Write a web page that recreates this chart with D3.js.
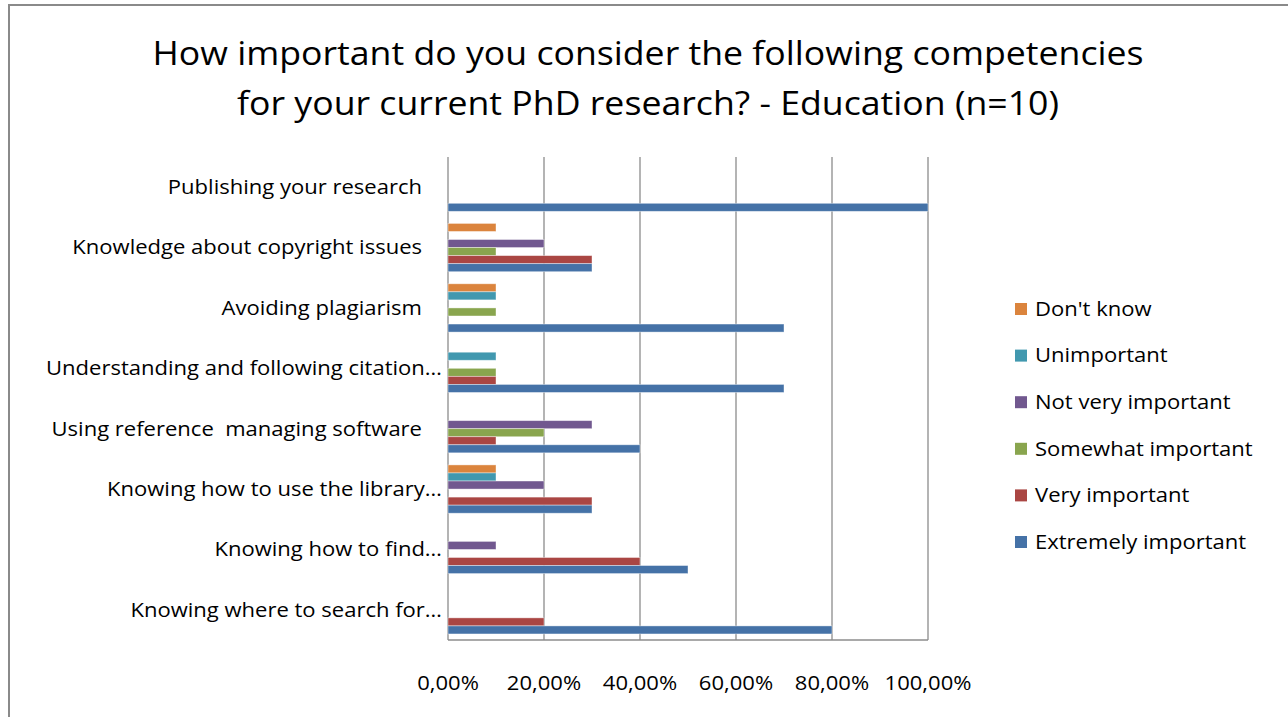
<!DOCTYPE html>
<html>
<head>
<meta charset="utf-8">
<script src="https://cdn.jsdelivr.net/npm/d3@7"></script>
<style>
  html, body { margin: 0; padding: 0; background: #fff; }
  svg text { font-family: "Open Sans", Lato, sans-serif; fill: #000; }
</style>
</head>
<body>
<svg id="chart" width="1288" height="717"></svg>
<script>
const categories = [
  "Publishing your research",
  "Knowledge about copyright issues",
  "Avoiding plagiarism",
  "Understanding and following citation…",
  "Using reference  managing software",
  "Knowing how to use the library…",
  "Knowing how to find…",
  "Knowing where to search for…"
];
const seriesNames = ["Don't know", "Unimportant", "Not very important", "Somewhat important", "Very important", "Extremely important"];
const seriesColors = ["#DB843D", "#4198AF", "#71588F", "#89A54E", "#AA4643", "#4572A7"];
const dontKnow          = [0, 0.1, 0.1, 0,   0,   0.1, 0,   0];
const unimportant       = [0, 0,   0.1, 0.1, 0,   0.1, 0,   0];
const notVeryImportant  = [0, 0.2, 0,   0,   0.3, 0.2, 0.1, 0];
const somewhatImportant = [0, 0.1, 0.1, 0.1, 0.2, 0,   0,   0];
const veryImportant     = [0, 0.3, 0,   0.1, 0.1, 0.3, 0.4, 0.2];
const extremelyImportant= [1, 0.3, 0.7, 0.7, 0.4, 0.3, 0.5, 0.8];
const tickValues = [0, 0.2, 0.4, 0.6, 0.8, 1.0];
const tickLabels = ["0,00%", "20,00%", "40,00%", "60,00%", "80,00%", "100,00%"];
const titleLines = ["How important do you consider the following competencies", "for your current PhD research? - Education (n=10)"];

const seriesValues = [dontKnow, unimportant, notVeryImportant, somewhatImportant, veryImportant, extremelyImportant];

const svg = d3.select("#chart");
const SX = 1.13;   // horizontal stretch of small text
const TSX = 1.115; // horizontal stretch of title

// outer frame
svg.append("path").attr("d", "M9,717 V5 H1288").attr("fill", "none").attr("stroke", "#8a8a8a").attr("stroke-width", 2);

const plot = { left: 448, right: 928, top: 157, bottom: 640 };
const x = d3.scaleLinear().domain([0, 1]).range([plot.left, plot.right]);
const y = d3.scaleBand().domain(categories).range([plot.top, plot.bottom]).paddingInner(0.2).paddingOuter(0.1);
const ySub = d3.scaleBand().domain(seriesNames).range([0, y.bandwidth()]);

// gridlines
svg.append("g").selectAll("line").data(tickValues).join("line")
  .attr("x1", d => x(d)).attr("x2", d => x(d))
  .attr("y1", plot.top).attr("y2", plot.bottom)
  .attr("stroke", "#8c8c8c").attr("stroke-width", 1.3);

// bottom axis line
svg.append("line").attr("x1", plot.left).attr("x2", plot.right).attr("y1", plot.bottom).attr("y2", plot.bottom)
  .attr("stroke", "#8c8c8c").attr("stroke-width", 1.3);

// bars
const groups = svg.append("g").selectAll("g").data(categories).join("g")
  .attr("transform", d => `translate(0,${y(d)})`);
groups.each(function(cat, ci) {
  d3.select(this).selectAll("rect").data(seriesNames.map((s, si) => ({ s, si, v: seriesValues[si][ci] })).filter(d => d.v > 0))
    .join("rect")
    .attr("x", x(0))
    .attr("y", d => ySub(d.s))
    .attr("width", d => x(d.v) - x(0))
    .attr("height", ySub.bandwidth())
    .attr("fill", d => seriesColors[d.si])
    .attr("stroke", "rgba(255,255,255,0.5)")
    .attr("stroke-width", 0.8);
});

// category labels
svg.append("g").selectAll("text").data(categories).join("text")
  .attr("transform", d => `translate(${d.endsWith("…") ? 442 : 422},${y(d) + y.bandwidth() / 2}) scale(${SX},1)`)
  .attr("dy", "0.35em")
  .attr("text-anchor", "end")
  .style("white-space", "pre")
  .attr("font-size", 19.5)
  .text(d => d);

// tick labels
svg.append("g").selectAll("text").data(tickValues).join("text")
  .attr("transform", d => `translate(${x(d)},690) scale(${SX},1)`)
  .attr("text-anchor", "middle")
  .attr("font-size", 19.5)
  .text((d, i) => tickLabels[i]);

// title
svg.append("g").selectAll("text").data(titleLines).join("text")
  .attr("transform", (d, i) => `translate(648,${65 + i * 50}) scale(${TSX},1)`)
  .attr("text-anchor", "middle")
  .attr("font-size", 32)
  .text(d => d);

// legend
const legend = svg.append("g").selectAll("g").data(seriesNames).join("g")
  .attr("transform", (d, i) => `translate(1015,${309 + i * 46.6})`);
legend.append("rect").attr("x", 0).attr("y", -6).attr("width", 12).attr("height", 12)
  .attr("fill", (d, i) => seriesColors[i]);
legend.append("text").attr("transform", `translate(20,0) scale(${SX},1)`).attr("dy", "0.35em").attr("font-size", 19.5).text(d => d);
</script>
</body>
</html>
